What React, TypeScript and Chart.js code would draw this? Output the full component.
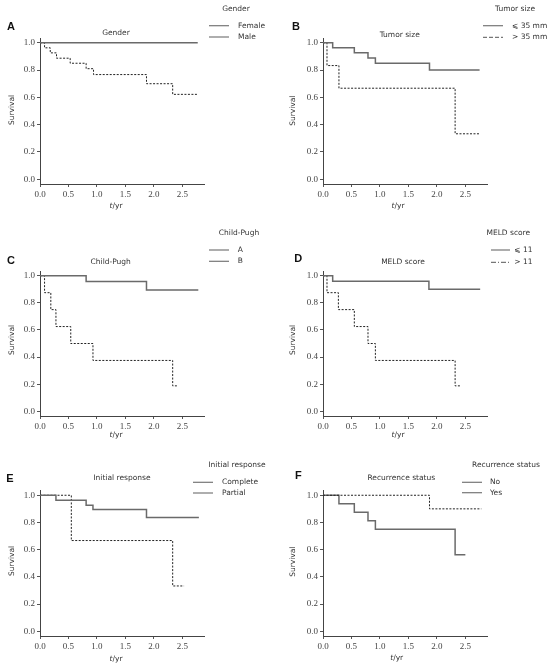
import React, { useEffect, useRef } from "react";
import { Chart, registerables } from "chart.js";

Chart.register(...registerables);

// ---------- data ----------
const xTickValues = [0, 0.5, 1.0, 1.5, 2.0, 2.5];
const yTickValues = [0, 0.2, 0.4, 0.6, 0.8, 1.0];

// A: Gender
const femaleTime = [0, 2.77];
const femaleSurv = [1, 1];
const maleTime = [0, 0.08, 0.18, 0.29, 0.53, 0.81, 0.94, 1.87, 2.33, 2.77];
const maleSurv = [1, 0.963, 0.926, 0.887, 0.85, 0.81, 0.767, 0.70, 0.622, 0.622];

// B: Tumor size
const smallTumorTime = [0, 0.17, 0.55, 0.79, 0.92, 1.87, 2.75];
const smallTumorSurv = [1, 0.963, 0.926, 0.889, 0.85, 0.80, 0.80];
const largeTumorTime = [0, 0.07, 0.28, 2.32, 2.75];
const largeTumorSurv = [1, 0.833, 0.667, 0.333, 0.333];

// C: Child-Pugh
const childATime = [0, 0.81, 1.87, 2.78];
const childASurv = [1, 0.958, 0.895, 0.895];
const childBTime = [0, 0.08, 0.19, 0.28, 0.54, 0.93, 2.33, 2.43];
const childBSurv = [1, 0.875, 0.75, 0.625, 0.5, 0.375, 0.1875, 0.1875];

// D: MELD score
const meldLowTime = [0, 0.17, 1.86, 2.76];
const meldLowSurv = [1, 0.96, 0.90, 0.90];
const meldHighTime = [0, 0.07, 0.27, 0.55, 0.79, 0.92, 2.32, 2.42];
const meldHighSurv = [1, 0.875, 0.75, 0.625, 0.5, 0.375, 0.1875, 0.1875];

// E: Initial response
const completeTime = [0, 0.28, 0.81, 0.93, 1.87, 2.79];
const completeSurv = [1, 0.963, 0.926, 0.895, 0.837, 0.837];
const partialTime = [0, 0.55, 2.33, 2.53];
const partialSurv = [1, 0.667, 0.333, 0.333];

// F: Recurrence status
const noRecTime = [0, 1.87, 2.78];
const noRecSurv = [1, 0.90, 0.90];
const yesRecTime = [0, 0.28, 0.55, 0.79, 0.92, 2.32, 2.5];
const yesRecSurv = [1, 0.9375, 0.875, 0.8125, 0.75, 0.5625, 0.5625];

// ---------- styles ----------
const SOLID = { color: "#6a6a6a", width: 1.5, dash: [] as number[] };
const DASHED = { color: "#222222", width: 1, dash: [2, 1.5] };
const TEXT = "#333333";
const SANS = "7.5px 'DejaVu Sans'";
const X_MAX = 2.88;
const Y_MIN = -0.035;
const Y_MAX = 1.035;

type Series = { time: number[]; surv: number[]; style: typeof SOLID };
type PanelCfg = {
  letter: string;
  left: number; top: number; w: number; h: number;
  yW: number; padTop: number; padRight: number; xH: number;
  letterPos: [number, number];
  title: string; titlePos: [number, number];
  legendTitlePos: [number, number];
  legendLine: [number, number];
  legendLabelX: number;
  legendRows: [number, number];
  legendLabels: [string, string];
  legendDash: [number[], number[]];
  survPos: [number, number];
  tyrPos: [number, number];
  series: Series[];
};

const LEFT = { left: 0, w: 275, yW: 40, padRight: 71 };
const RIGHT = { left: 275, w: 276, yW: 48, padRight: 64 };
const ROW1 = { top: 0, h: 220, padTop: 38, xH: 36 };
const ROW2 = { top: 220, h: 220, padTop: 51, xH: 24 };
const ROW3 = { top: 440, h: 226, padTop: 50.5, xH: 30 };

const panels: PanelCfg[] = [
  {
    letter: "A", ...LEFT, ...ROW1,
    letterPos: [11, 27], title: "Gender", titlePos: [116, 33],
    legendTitlePos: [236, 9], legendLine: [209, 229], legendLabelX: 238, legendRows: [25.7, 37],
    legendLabels: ["Female", "Male"], legendDash: [[], []],
    survPos: [11.7, 110], tyrPos: [116, 206],
    series: [
      { time: femaleTime, surv: femaleSurv, style: SOLID },
      { time: maleTime, surv: maleSurv, style: DASHED },
    ],
  },
  {
    letter: "B", ...RIGHT, ...ROW1,
    letterPos: [21, 27], title: "Tumor size", titlePos: [124.7, 35],
    legendTitlePos: [240, 9.3], legendLine: [208, 228], legendLabelX: 237, legendRows: [25.7, 37.3],
    legendLabels: ["\u2A7D 35 mm", "> 35 mm"], legendDash: [[], [4, 2]],
    survPos: [18.3, 110.7], tyrPos: [123, 206],
    series: [
      { time: smallTumorTime, surv: smallTumorSurv, style: SOLID },
      { time: largeTumorTime, surv: largeTumorSurv, style: DASHED },
    ],
  },
  {
    letter: "C", ...LEFT, ...ROW2,
    letterPos: [11, 40.7], title: "Child-Pugh", titlePos: [110.7, 41.7],
    legendTitlePos: [239, 12.7], legendLine: [209, 229], legendLabelX: 237.7, legendRows: [30, 41.3],
    legendLabels: ["A", "B"], legendDash: [[], []],
    survPos: [11.7, 120], tyrPos: [116, 215],
    series: [
      { time: childATime, surv: childASurv, style: SOLID },
      { time: childBTime, surv: childBSurv, style: DASHED },
    ],
  },
  {
    letter: "D", ...RIGHT, ...ROW2,
    letterPos: [23.3, 39], title: "MELD score", titlePos: [128, 41.7],
    legendTitlePos: [233.3, 13.3], legendLine: [216, 235], legendLabelX: 239.3, legendRows: [30, 42.3],
    legendLabels: ["\u2A7D 11", "> 11"], legendDash: [[], [5, 2, 1, 2]],
    survPos: [18.3, 120], tyrPos: [123, 215],
    series: [
      { time: meldLowTime, surv: meldLowSurv, style: SOLID },
      { time: meldHighTime, surv: meldHighSurv, style: DASHED },
    ],
  },
  {
    letter: "E", ...LEFT, ...ROW3,
    letterPos: [10, 39], title: "Initial response", titlePos: [122, 38.3],
    legendTitlePos: [237, 25], legendLine: [193, 213], legendLabelX: 222, legendRows: [42.3, 53],
    legendLabels: ["Complete", "Partial"], legendDash: [[], []],
    survPos: [11.7, 121], tyrPos: [116, 219],
    series: [
      { time: completeTime, surv: completeSurv, style: SOLID },
      { time: partialTime, surv: partialSurv, style: DASHED },
    ],
  },
  {
    letter: "F", ...RIGHT, ...ROW3,
    letterPos: [23.3, 36], title: "Recurrence status", titlePos: [126.3, 38.3],
    legendTitlePos: [231, 25], legendLine: [187, 207], legendLabelX: 215, legendRows: [42.3, 52.7],
    legendLabels: ["No", "Yes"], legendDash: [[], []],
    survPos: [18.3, 121.7], tyrPos: [121.7, 218],
    series: [
      { time: noRecTime, surv: noRecSurv, style: DASHED },
      { time: yesRecTime, surv: yesRecSurv, style: SOLID },
    ],
  },
];

function decorPlugin(cfg: PanelCfg) {
  return {
    id: "decor" + cfg.letter,
    afterDraw(chart: any) {
      const ctx: CanvasRenderingContext2D = chart.ctx;
      ctx.save();
      ctx.fillStyle = TEXT;
      ctx.textBaseline = "middle";

      // panel letter
      ctx.font = "bold 11px 'Liberation Sans'";
      ctx.textAlign = "center";
      ctx.fillStyle = "#111";
      ctx.fillText(cfg.letter, cfg.letterPos[0], cfg.letterPos[1]);
      ctx.fillStyle = TEXT;

      // chart title
      ctx.font = SANS;
      ctx.fillText(cfg.title, cfg.titlePos[0], cfg.titlePos[1]);

      // legend
      ctx.fillText(cfg.title, cfg.legendTitlePos[0], cfg.legendTitlePos[1]);
      ctx.textAlign = "left";
      for (let i = 0; i < 2; i++) {
        const y = cfg.legendRows[i];
        ctx.save();
        ctx.strokeStyle = "#777";
        ctx.lineWidth = 1.2;
        ctx.setLineDash(cfg.legendDash[i]);
        ctx.beginPath();
        ctx.moveTo(cfg.legendLine[0], y);
        ctx.lineTo(cfg.legendLine[1], y);
        ctx.stroke();
        ctx.restore();
        ctx.fillText(cfg.legendLabels[i], cfg.legendLabelX, y);
      }

      // y axis title
      ctx.save();
      ctx.translate(cfg.survPos[0], cfg.survPos[1]);
      ctx.rotate(-Math.PI / 2);
      ctx.textAlign = "center";
      ctx.fillText("Survival", 0, 0);
      ctx.restore();

      // x axis title: italic t + /yr
      ctx.font = "italic 7.5px 'DejaVu Sans'";
      const wT = ctx.measureText("t").width;
      ctx.font = SANS;
      const wR = ctx.measureText("/yr").width;
      const x0 = cfg.tyrPos[0] - (wT + wR) / 2;
      ctx.textAlign = "left";
      ctx.font = "italic 7.5px 'DejaVu Sans'";
      ctx.fillText("t", x0, cfg.tyrPos[1]);
      ctx.font = SANS;
      ctx.fillText("/yr", x0 + wT, cfg.tyrPos[1]);
      ctx.restore();
    },
  };
}

const tickFont = { family: "'Liberation Serif'", size: 9 };

function Panel({ cfg }: { cfg: PanelCfg }) {
  const ref = useRef<HTMLCanvasElement | null>(null);
  useEffect(() => {
    if (!ref.current) return;
    const chart = new Chart(ref.current, {
      type: "line",
      data: {
        datasets: cfg.series.map((s) => ({
          data: s.time.map((t, i) => ({ x: t, y: s.surv[i] })),
          stepped: true,
          borderColor: s.style.color,
          borderWidth: s.style.width,
          borderDash: s.style.dash,
          pointRadius: 0,
          fill: false,
        })),
      },
      options: {
        animation: false,
        responsive: false,
        events: [],
        layout: { padding: { left: 0, top: cfg.padTop, right: cfg.padRight, bottom: 0 } },
        plugins: { legend: { display: false }, title: { display: false }, tooltip: { enabled: false } },
        scales: {
          x: {
            type: "linear",
            min: 0,
            max: X_MAX,
            afterBuildTicks: (s: any) => { s.ticks = xTickValues.map((v) => ({ value: v })); },
            afterFit: (s: any) => { s.height = cfg.xH; },
            ticks: {
              callback: (v: any) => Number(v).toFixed(1),
              font: tickFont, color: "#444", padding: 2, maxRotation: 0, autoSkip: false,
            },
            grid: { display: true, drawOnChartArea: false, drawTicks: true, tickLength: 3, color: "#555" },
            border: { display: true, color: "#444", width: 1 },
          },
          y: {
            type: "linear",
            min: Y_MIN,
            max: Y_MAX,
            afterBuildTicks: (s: any) => { s.ticks = yTickValues.map((v) => ({ value: v })); },
            afterFit: (s: any) => { s.width = cfg.yW; },
            ticks: {
              callback: (v: any) => Number(v).toFixed(1),
              font: tickFont, color: "#444", padding: 2, autoSkip: false,
            },
            grid: { display: true, drawOnChartArea: false, drawTicks: true, tickLength: 3, color: "#555" },
            border: { display: true, color: "#444", width: 1 },
          },
        },
      } as any,
      plugins: [decorPlugin(cfg)],
    });
    return () => chart.destroy();
  }, [cfg]);
  return (
    <canvas
      ref={ref}
      width={cfg.w}
      height={cfg.h}
      style={{ position: "absolute", left: cfg.left, top: cfg.top, width: cfg.w, height: cfg.h }}
    />
  );
}

export default function App() {
  return (
    <div style={{ position: "absolute", left: 0, top: 0, width: 551, height: 666, background: "#fff" }}>
      {panels.map((p) => (
        <Panel key={p.letter} cfg={p} />
      ))}
    </div>
  );
}
